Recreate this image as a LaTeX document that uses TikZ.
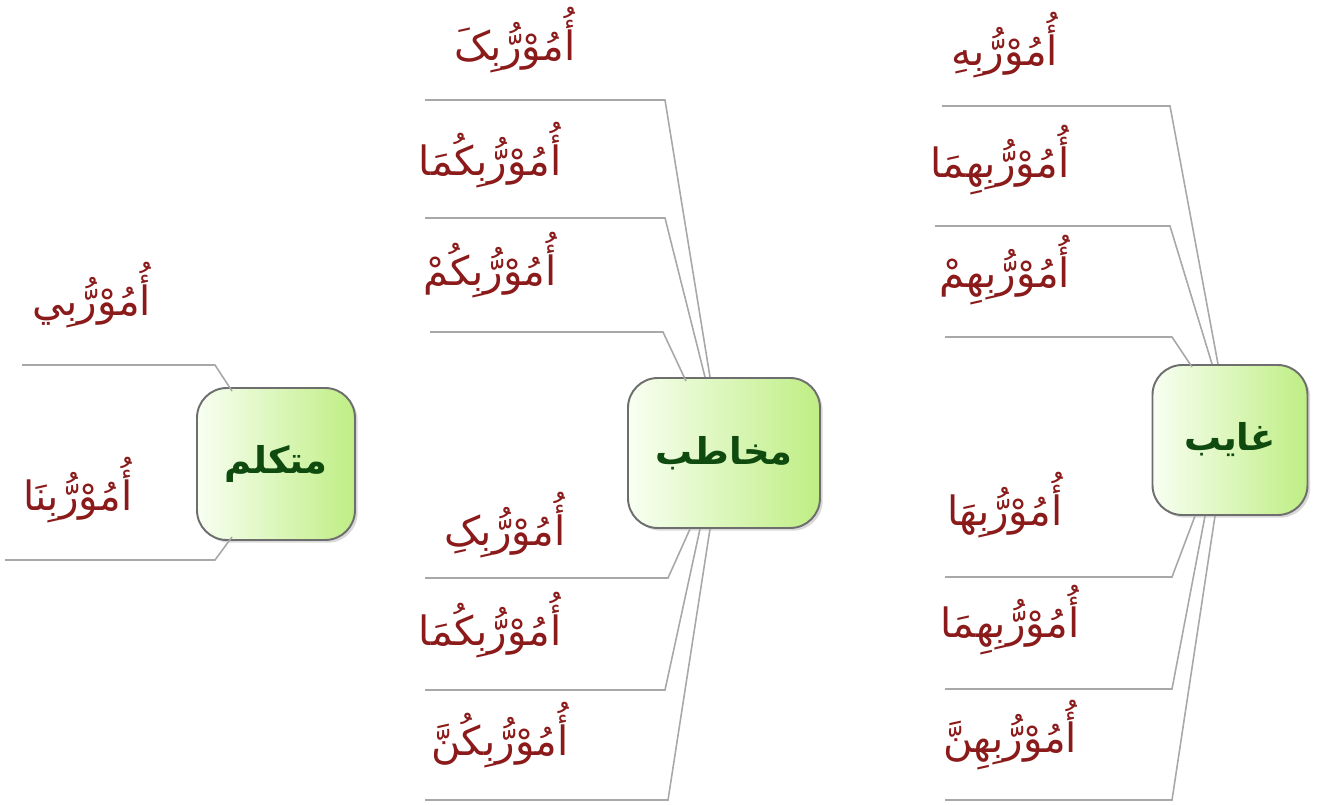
\documentclass[tikz,border=0pt]{standalone}
\usepackage{fontspec}
\newfontfamily\arabicfont[Script=Arabic]{DejaVu Sans}
\TeXXeTstate=1
\usetikzlibrary{shadows}
\definecolor{wordred}{HTML}{8B1A1A}
\definecolor{labgreen}{HTML}{0F4A0F}
\definecolor{boxborder}{HTML}{6E6E6E}
\definecolor{linegray}{HTML}{A8A8A8}
\definecolor{gA}{HTML}{F8FFF2}
\definecolor{gB}{HTML}{BFEE84}
\tikzset{
  word/.style={font=\arabicfont\fontsize{23}{27}\selectfont, text=wordred, inner sep=0pt},
  hub/.style={draw=boxborder, line width=1.1pt, rounded corners=17pt,
    left color=gA, right color=gB,
    drop shadow={shadow xshift=1.5pt, shadow yshift=-1.5pt, fill=black!30},
    font=\arabicfont\bfseries\fontsize{21}{25}\selectfont, text=labgreen,
    inner sep=0pt},
  link/.style={draw=linegray, line width=0.9pt}
}
\newcommand{\ar}[1]{\beginR #1\endR}
\begin{document}
\begin{tikzpicture}[x=0.02cm, y=-0.02cm]
\useasboundingbox (0,0) rectangle (1319,805);
% hubs
\node[hub, minimum width=158*0.02cm, minimum height=152*0.02cm] (mt) at (276,464) {\ar{متكلم}};
\node[hub, minimum width=192*0.02cm, minimum height=150*0.02cm] (mk) at (724,453) {\ar{مخاطب}};
\node[hub, minimum width=155*0.02cm, minimum height=150*0.02cm] (gh) at (1230,440) {\ar{غايب}};
% words middle
\node[word] (w1) at (515,40) {\ar{أُمُوْرُّبِکَ}};
\node[word] (w2) at (490,155) {\ar{أُمُوْرُّبِکُمَا}};
\node[word] (w3) at (490,265) {\ar{أُمُوْرُّبِکُمْ}};
\node[word] (w4) at (505,525) {\ar{أُمُوْرُّبِکِ}};
\node[word] (w5) at (490,625) {\ar{أُمُوْرُّبِکُمَا}};
\node[word] (w6) at (500,735) {\ar{أُمُوْرُّبِکُنَّ}};
% words right
\node[word] (w7) at (1005,45) {\ar{أُمُوْرُّبِهِ}};
\node[word] (w8) at (1000,160) {\ar{أُمُوْرُّبِهِمَا}};
\node[word] (w9) at (1005,270) {\ar{أُمُوْرُّبِهِمْ}};
\node[word] (w10) at (1005,505) {\ar{أُمُوْرُّبِهَا}};
\node[word] (w11) at (1010,620) {\ar{أُمُوْرُّبِهِمَا}};
\node[word] (w12) at (1010,735) {\ar{أُمُوْرُّبِهِنَّ}};
% words left
\node[word] (w13) at (92,295) {\ar{أُمُوْرُّبِي}};
\node[word] (w14) at (78,490) {\ar{أُمُوْرُّبِنَا}};
% coordinates
\coordinate (a1) at (425,100); \coordinate (b1) at (665,100);
\coordinate (a2) at (425,218); \coordinate (b2) at (665,218);
\coordinate (a3) at (430,332); \coordinate (b3) at (663,332);
\coordinate (a4) at (425,578); \coordinate (b4) at (668,578);
\coordinate (a5) at (425,690); \coordinate (b5) at (665,690);
\coordinate (a6) at (425,800); \coordinate (b6) at (668,800);
\coordinate (a7) at (942,106); \coordinate (b7) at (1170,106);
\coordinate (a8) at (935,226); \coordinate (b8) at (1170,226);
\coordinate (a9) at (945,337); \coordinate (b9) at (1172,337);
\coordinate (a10) at (945,577); \coordinate (b10) at (1172,577);
\coordinate (a11) at (945,689); \coordinate (b11) at (1172,689);
\coordinate (a12) at (945,800); \coordinate (b12) at (1172,800);
\coordinate (a13) at (22,365); \coordinate (b13) at (215,365);
\coordinate (a14) at (5,560); \coordinate (b14) at (215,560);
% links
\draw[link] (a1) -- (b1) -- ([xshift=-14*0.02cm]mk.north);
\draw[link] (a2) -- (b2) -- ([xshift=-19*0.02cm]mk.north);
\draw[link] (a3) -- (b3) -- ([xshift=-38*0.02cm,yshift=-4*0.02cm]mk.north);
\draw[link] (a4) -- (b4) -- ([xshift=-34*0.02cm]mk.south);
\draw[link] (a5) -- (b5) -- ([xshift=-24*0.02cm]mk.south);
\draw[link] (a6) -- (b6) -- ([xshift=-14*0.02cm]mk.south);
\draw[link] (a7) -- (b7) -- ([xshift=-12*0.02cm]gh.north);
\draw[link] (a8) -- (b8) -- ([xshift=-18*0.02cm]gh.north);
\draw[link] (a9) -- (b9) -- ([xshift=-38*0.02cm,yshift=-3*0.02cm]gh.north);
\draw[link] (a10) -- (b10) -- ([xshift=-35*0.02cm]gh.south);
\draw[link] (a11) -- (b11) -- ([xshift=-25*0.02cm]gh.south);
\draw[link] (a12) -- (b12) -- ([xshift=-15*0.02cm]gh.south);
\draw[link] (a13) -- (b13) -- ([xshift=-44*0.02cm,yshift=-4*0.02cm]mt.north);
\draw[link] (a14) -- (b14) -- ([xshift=-44*0.02cm,yshift=4*0.02cm]mt.south);
\end{tikzpicture}
\end{document}
